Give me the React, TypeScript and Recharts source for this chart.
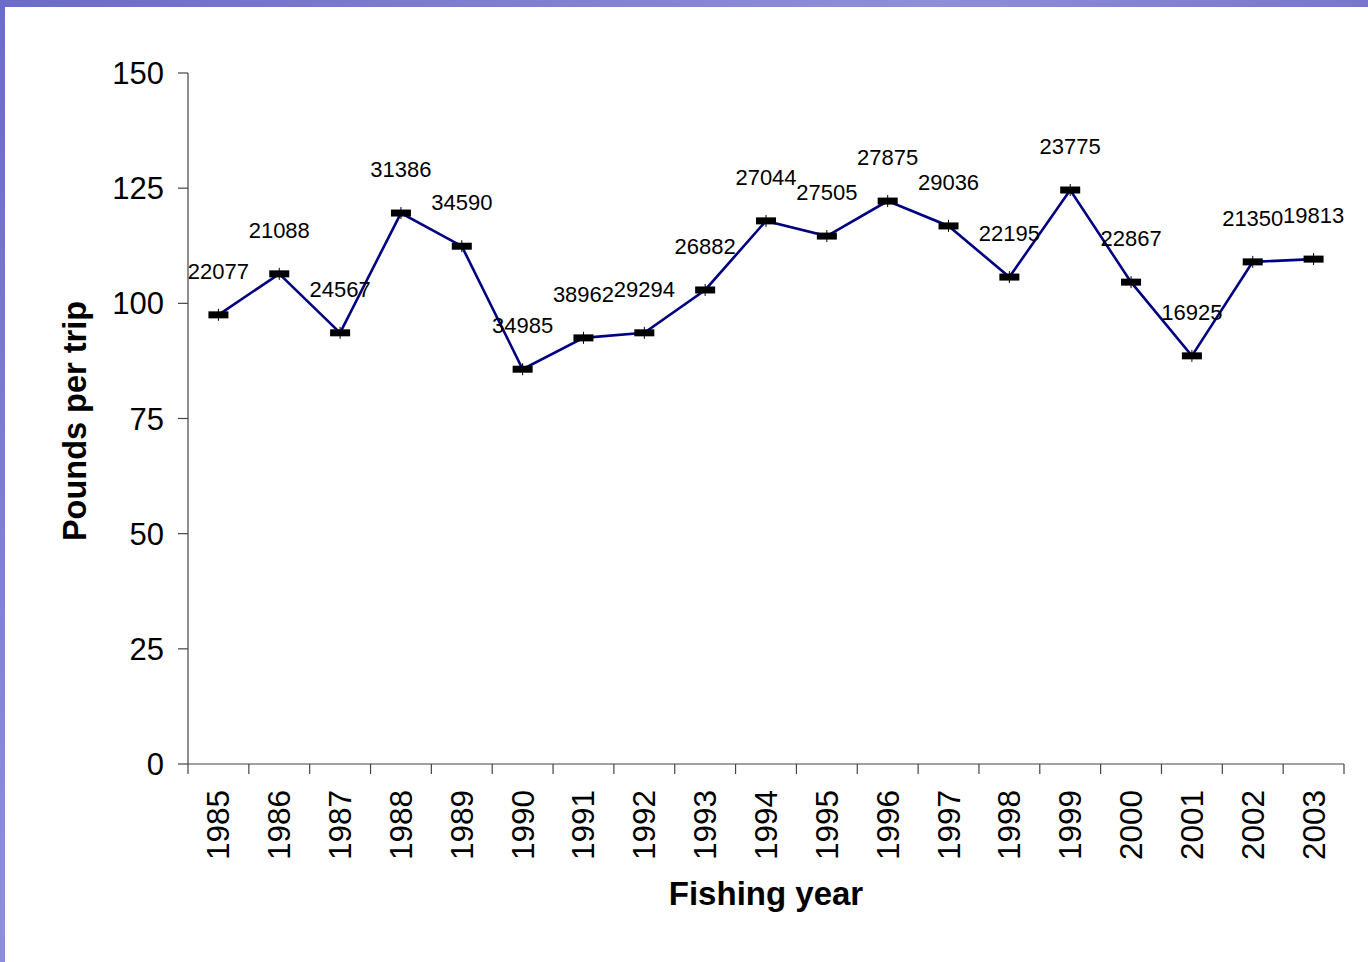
import { LineChart, Line, XAxis, YAxis, LabelList, Label } from 'recharts';

const years = [
  '1985', '1986', '1987', '1988', '1989', '1990', '1991', '1992', '1993', '1994',
  '1995', '1996', '1997', '1998', '1999', '2000', '2001', '2002', '2003',
];
const poundsPerTrip = [
  97.5, 106.4, 93.6, 119.6, 112.4, 85.7, 92.5, 93.6, 102.9, 117.9,
  114.6, 122.2, 116.8, 105.7, 124.6, 104.6, 88.6, 109.0, 109.6,
];
const tripCounts = [
  22077, 21088, 24567, 31386, 34590, 34985, 38962, 29294, 26882, 27044,
  27505, 27875, 29036, 22195, 23775, 22867, 16925, 21350, 19813,
];
const yTicks = [0, 25, 50, 75, 100, 125, 150];

const data = years.map((year, i) => ({
  idx: i,
  year,
  pounds: poundsPerTrip[i],
  trips: tripCounts[i],
}));

// ticks at category boundaries (lines) plus centres (year labels)
const xTicks = years.flatMap((_, i) => [i - 0.5, i]).concat(years.length - 0.5);

const FONT = '"Liberation Sans", Arial, sans-serif';

const YearTick = ({ x, y, payload }: any) => {
  const v = payload.value;
  if (!Number.isInteger(v)) {
    return <line x1={x} y1={y} x2={x} y2={y + 10} stroke="#444" strokeWidth={1.2} />;
  }
  const ty = y + 26;
  return (
    <text
      x={x}
      y={ty}
      transform={`rotate(-90 ${x} ${ty})`}
      textAnchor="end"
      dominantBaseline="central"
      fontSize={31.5}
      fontFamily={FONT}
      fill="#000"
    >
      {years[v]}
    </text>
  );
};

const BarMarker = ({ cx, cy }: any) => (
  <g>
    <rect x={cx - 10} y={cy - 3.5} width={20} height={7} fill="#000" />
    <line x1={cx} y1={cy - 6} x2={cx} y2={cy + 6} stroke="#000" strokeWidth={1} />
  </g>
);

export default function App() {
  return (
    <div
      style={{
        position: 'absolute',
        left: 0,
        top: 0,
        width: 1368,
        height: 962,
        overflow: 'hidden',
        background: 'linear-gradient(135deg, #6b6bc9 0%, #8f8fd8 40%, #6a66c8 70%, #8a88d6 100%)',
      }}
    >
      <div
        style={{
          position: 'absolute',
          left: 5,
          top: 7,
          right: 0,
          bottom: 0,
          background: '#fff',
        }}
      />
      <div style={{ position: 'absolute', left: 0, top: 0 }}>
        <LineChart
          width={1368}
          height={962}
          data={data}
          margin={{ top: 73, right: 24, bottom: 0, left: 0 }}
          style={{ fontFamily: FONT }}
        >
          <XAxis
            dataKey="idx"
            type="number"
            domain={[-0.5, years.length - 0.5]}
            ticks={xTicks}
            interval={0}
            tick={<YearTick />}
            tickLine={false}
            tickSize={0}
            tickMargin={0}
            height={198}
            axisLine={{ stroke: '#444', strokeWidth: 1.2 }}
          >
            <Label
              content={() => (
                <text
                  x={766}
                  y={905}
                  textAnchor="middle"
                  fontSize={33}
                  fontWeight="bold"
                  fontFamily={FONT}
                  fill="#000"
                >
                  Fishing year
                </text>
              )}
            />
          </XAxis>
          <YAxis
            type="number"
            domain={[0, 150]}
            ticks={yTicks}
            interval={0}
            width={188}
            tickSize={10}
            tickMargin={14}
            tick={{ fontSize: 31, fill: '#000', fontFamily: FONT }}
            tickLine={{ stroke: '#444', strokeWidth: 1.2 }}
            axisLine={{ stroke: '#444', strokeWidth: 1.2 }}
          >
            <Label
              content={() => (
                <text
                  x={86}
                  y={421}
                  transform="rotate(-90 86 421)"
                  textAnchor="middle"
                  fontSize={32.5}
                  fontWeight="bold"
                  fontFamily={FONT}
                  fill="#000"
                >
                  Pounds per trip
                </text>
              )}
            />
          </YAxis>
          <Line
            type="linear"
            dataKey="pounds"
            stroke="#000080"
            strokeWidth={2.6}
            dot={<BarMarker />}
            activeDot={false}
            isAnimationActive={false}
          >
            <LabelList
              dataKey="trips"
              position="top"
              offset={36}
              fontSize={22}
              fill="#000"
              fontFamily={FONT}
            />
          </Line>
        </LineChart>
      </div>
    </div>
  );
}
